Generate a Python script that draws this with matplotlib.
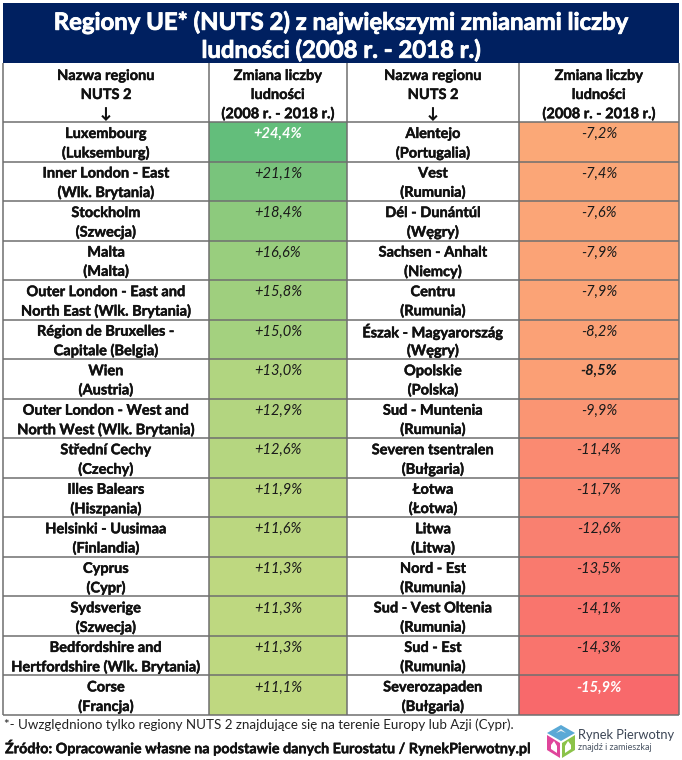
from __future__ import annotations

import matplotlib.pyplot as plt
import matplotlib.patheffects as pe
from matplotlib.colors import LinearSegmentedColormap, TwoSlopeNorm
from matplotlib.patches import Polygon, Rectangle

plt.rcParams["font.family"] = ["Lato", "DejaVu Sans"]

TITLE = ["Regiony UE* (NUTS 2) z największymi zmianami liczby", "ludności (2008 r. - 2018 r.)"]
HEAD_NAME = ["Nazwa regionu", "NUTS 2", "↓"]
HEAD_CHANGE = ["Zmiana liczby", "ludności", "(2008 r. - 2018 r.)"]

left_names = [
    "Luxembourg\n(Luksemburg)",
    "Inner London - East\n(Wlk. Brytania)",
    "Stockholm\n(Szwecja)",
    "Malta\n(Malta)",
    "Outer London - East and\nNorth East (Wlk. Brytania)",
    "Région de Bruxelles -\nCapitale (Belgia)",
    "Wien\n(Austria)",
    "Outer London - West and\nNorth West (Wlk. Brytania)",
    "Střední Cechy\n(Czechy)",
    "Illes Balears\n(Hiszpania)",
    "Helsinki - Uusimaa\n(Finlandia)",
    "Cyprus\n(Cypr)",
    "Sydsverige\n(Szwecja)",
    "Bedfordshire and\nHertfordshire (Wlk. Brytania)",
    "Corse\n(Francja)",
]
left_values = [24.4, 21.1, 18.4, 16.6, 15.8, 15.0, 13.0, 12.9, 12.6, 11.9, 11.6, 11.3, 11.3, 11.3, 11.1]

right_names = [
    "Alentejo\n(Portugalia)",
    "Vest\n(Rumunia)",
    "Dél - Dunántúl\n(Węgry)",
    "Sachsen - Anhalt\n(Niemcy)",
    "Centru\n(Rumunia)",
    "Észak - Magyarország\n(Węgry)",
    "Opolskie\n(Polska)",
    "Sud - Muntenia\n(Rumunia)",
    "Severen tsentralen\n(Bułgaria)",
    "Łotwa\n(Łotwa)",
    "Litwa\n(Litwa)",
    "Nord - Est\n(Rumunia)",
    "Sud - Vest Oltenia\n(Rumunia)",
    "Sud - Est\n(Rumunia)",
    "Severozapaden\n(Bułgaria)",
]
right_values = [-7.2, -7.4, -7.6, -7.9, -7.9, -8.2, -8.5, -9.9, -11.4, -11.7, -12.6, -13.5, -14.1, -14.3, -15.9]

NOTE = "*- Uwzględniono tylko regiony NUTS 2 znajdujące się na terenie Europy lub Azji (Cypr)."
SOURCE = "Źródło: Opracowanie własne na podstawie danych Eurostatu / RynekPierwotny.pl"

NAVY = "#002060"
LINE = "#6f6f6f"
INK = "#111111"
COLS = [3, 209, 347, 519, 679]
TOP, HEAD_TOP, BODY_TOP, BODY_BOTTOM = 3, 63, 122, 715
BODY_SIZE = 10.5


def fmt(value: float) -> str:
    return f"{value:+.1f}%".replace(".", ",")


def bold_text(ax, x, y, text, size=BODY_SIZE, color=INK, stroke=0.3, **kw):
    # Lato bold comes out lighter than the reference, so thicken it a little
    return ax.text(x, y, text, ha="center", va="center", fontsize=size, fontweight="bold", color=color,
                   path_effects=[pe.withStroke(linewidth=stroke, foreground=color)], **kw)


def draw_column(ax, cmap, norm, names, values, col: int, row_h: float) -> None:
    x_name = (COLS[col] + COLS[col + 1]) / 2
    x_val = (COLS[col + 1] + COLS[col + 2]) / 2
    for i, (name, value) in enumerate(zip(names, values)):
        y = BODY_TOP + i * row_h
        ax.add_patch(Rectangle((COLS[col + 1], y), COLS[col + 2] - COLS[col + 1], row_h,
                               facecolor=cmap(norm(value)), edgecolor="none", zorder=1))
        line1, line2 = name.split("\n")
        bold_text(ax, x_name, y + 12, line1)
        bold_text(ax, x_name, y + 31, line2)
        # extremes in white, the Polish region picked out in black
        special = value in (max(left_values), min(right_values))
        highlight = value == -8.5
        ax.text(x_val, y + 12, fmt(value), ha="center", va="center", fontsize=BODY_SIZE, style="italic",
                fontweight="bold" if special or highlight else "normal",
                color="white" if special else "#1a1a1a")


def draw_logo(ax) -> None:
    ax.add_patch(Polygon([(547, 735), (560, 743), (560, 758), (547, 750)], color="#e0459b", lw=0))
    ax.add_patch(Polygon([(562, 743), (575, 735), (575, 750), (562, 758)], color="#8bc34a", lw=0))
    ax.add_patch(Polygon([(547, 733), (561, 725), (575, 733), (561, 741)], color="#5aa9d6", lw=0))
    ax.add_patch(Polygon([(551, 745), (554, 741), (557, 746), (557, 753), (551, 749)], color="white", lw=0))
    ax.add_patch(Polygon([(565, 746), (568, 741), (571, 745), (571, 749), (565, 753)], color="white", lw=0))
    ax.add_patch(Polygon([(556, 733), (561, 729), (566, 733), (561, 731)], color="#e6eef2", lw=0))
    ax.text(578, 735, "Rynek Pierwotny", fontsize=9.3, va="center", ha="left", color="#3c4656")
    ax.text(578, 747, "znajdź i zamieszkaj", fontsize=6.5, va="center", ha="left", color="#4a5564")


def main() -> None:
    fig = plt.figure(figsize=(6.82, 7.6), dpi=100)
    ax = fig.add_axes([0, 0, 1, 1])
    ax.set_xlim(0, 682)
    ax.set_ylim(760, 0)
    ax.axis("off")

    # same three-colour scale as a spreadsheet, midpoint at the median
    cmap = LinearSegmentedColormap.from_list("scale", ["#F8696B", "#FFEB84", "#63BE7B"])
    median = (min(left_values) + max(right_values)) / 2
    norm = TwoSlopeNorm(vcenter=median, vmin=min(right_values), vmax=max(left_values))

    row_h = (BODY_BOTTOM - BODY_TOP) / len(left_values)

    ax.add_patch(Rectangle((COLS[0], TOP), COLS[-1] - COLS[0], HEAD_TOP - TOP, facecolor=NAVY, edgecolor="none"))
    for y, line in zip([22, 50], TITLE):
        bold_text(ax, 341, y, line, size=17.2, color="white", stroke=0.6)

    draw_column(ax, cmap, norm, left_names, left_values, 0, row_h)
    draw_column(ax, cmap, norm, right_names, right_values, 2, row_h)

    for col, head in enumerate([HEAD_NAME, HEAD_CHANGE, HEAD_NAME, HEAD_CHANGE]):
        x = (COLS[col] + COLS[col + 1]) / 2
        for y, line in zip([76, 95, 114], head):
            bold_text(ax, x, y, line)

    for i in range(len(left_values) + 1):
        y = BODY_TOP + i * row_h
        ax.plot([COLS[0], COLS[-1]], [y, y], color=LINE, lw=1.1, zorder=3, solid_capstyle="butt")
    for x in COLS:
        ax.plot([x, x], [HEAD_TOP, BODY_BOTTOM], color=LINE, lw=1.1, zorder=3, solid_capstyle="butt")

    ax.text(4, 725, NOTE, ha="left", va="center", fontsize=9.6, color="#222222")
    ax.text(5, 748, SOURCE, ha="left", va="center", fontsize=10.35, fontweight="bold", color=INK,
            path_effects=[pe.withStroke(linewidth=0.3, foreground=INK)])
    draw_logo(ax)

    fig.savefig("out.png", dpi=100)
    plt.close(fig)


if __name__ == "__main__":
    main()
